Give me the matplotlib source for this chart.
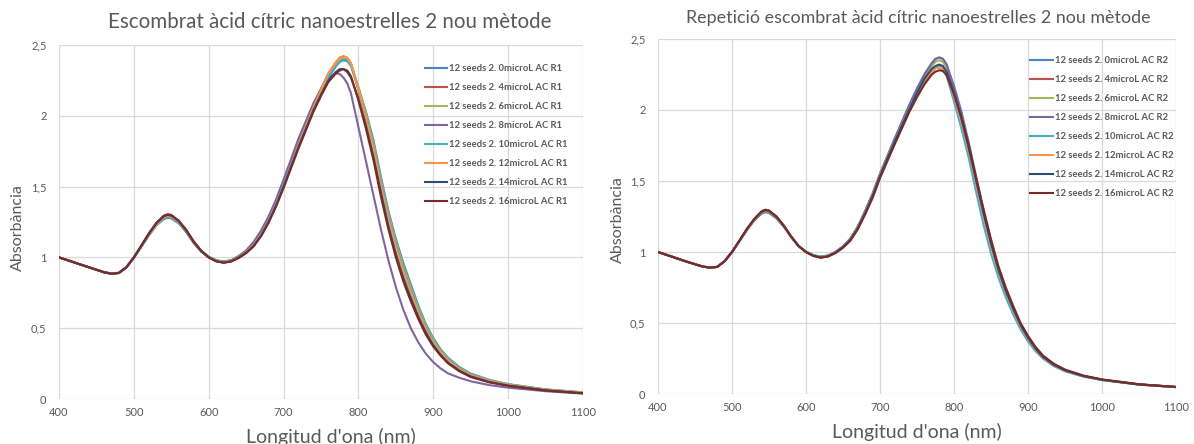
import matplotlib
matplotlib.use("Agg")
import matplotlib.pyplot as plt

plt.rcParams['font.family'] = ['Lato', 'DejaVu Sans']

# wavelength grid (nm)
wl = [400, 420, 440, 460, 470, 480, 490, 500, 510, 520, 530, 540, 545, 550, 560, 570, 580, 590,
      600, 610, 620, 630, 640, 650, 660, 670, 680, 690, 700, 720, 740, 750, 760, 770, 775, 780, 785, 790,
      800, 810, 820, 830, 840, 850, 860, 870, 880, 890, 900, 910, 920, 935, 950, 975, 1000, 1050, 1100]

# run 1 (R1)
r1_0 = [1.00, 0.965, 0.93, 0.897, 0.887, 0.892, 0.93, 0.995, 1.075, 1.155, 1.225, 1.27, 1.28, 1.275, 1.24, 1.18, 1.105, 1.045,
        1.005, 0.98, 0.972, 0.98, 1.005, 1.04, 1.09, 1.165, 1.26, 1.38, 1.51, 1.79, 2.05, 2.16, 2.27, 2.35, 2.385, 2.40, 2.395, 2.365,
        2.20, 2.03, 1.83, 1.57, 1.33, 1.13, 0.96, 0.81, 0.66, 0.53, 0.43, 0.35, 0.29, 0.225, 0.18, 0.135, 0.105, 0.068, 0.047]
r1_4 = [1.00, 0.965, 0.93, 0.895, 0.885, 0.89, 0.93, 1.00, 1.08, 1.16, 1.23, 1.285, 1.295, 1.29, 1.25, 1.19, 1.11, 1.045,
        1.0, 0.975, 0.965, 0.975, 1.0, 1.035, 1.085, 1.16, 1.26, 1.38, 1.51, 1.80, 2.07, 2.19, 2.30, 2.38, 2.41, 2.42, 2.41, 2.37,
        2.18, 1.98, 1.76, 1.50, 1.26, 1.05, 0.88, 0.73, 0.60, 0.48, 0.39, 0.32, 0.26, 0.205, 0.165, 0.125, 0.10, 0.064, 0.044]
r1_6 = [1.00, 0.965, 0.93, 0.896, 0.886, 0.891, 0.93, 0.998, 1.078, 1.158, 1.228, 1.278, 1.288, 1.283, 1.245, 1.185, 1.108, 1.045,
        1.003, 0.978, 0.969, 0.978, 1.003, 1.038, 1.088, 1.163, 1.26, 1.38, 1.51, 1.79, 2.06, 2.18, 2.29, 2.37, 2.40, 2.41, 2.405, 2.37,
        2.20, 2.02, 1.81, 1.55, 1.31, 1.11, 0.94, 0.79, 0.645, 0.52, 0.42, 0.345, 0.285, 0.22, 0.177, 0.132, 0.104, 0.067, 0.046]
r1_8 = [1.00, 0.965, 0.93, 0.895, 0.885, 0.89, 0.93, 1.00, 1.08, 1.16, 1.23, 1.28, 1.29, 1.285, 1.245, 1.18, 1.10, 1.04,
        1.0, 0.975, 0.968, 0.98, 1.01, 1.05, 1.11, 1.19, 1.29, 1.41, 1.55, 1.84, 2.09, 2.19, 2.27, 2.30, 2.295, 2.27, 2.23, 2.16,
        1.92, 1.68, 1.44, 1.20, 0.98, 0.79, 0.63, 0.50, 0.40, 0.32, 0.26, 0.215, 0.18, 0.15, 0.125, 0.098, 0.08, 0.055, 0.038]
r1_10 = [1.00, 0.965, 0.93, 0.896, 0.886, 0.891, 0.93, 0.998, 1.077, 1.157, 1.227, 1.277, 1.287, 1.282, 1.245, 1.185, 1.108, 1.045,
         1.003, 0.978, 0.969, 0.978, 1.003, 1.038, 1.088, 1.163, 1.26, 1.38, 1.51, 1.79, 2.06, 2.17, 2.28, 2.35, 2.38, 2.39, 2.385, 2.35,
         2.19, 2.00, 1.79, 1.53, 1.29, 1.09, 0.92, 0.77, 0.63, 0.51, 0.41, 0.34, 0.28, 0.217, 0.173, 0.13, 0.102, 0.066, 0.045]
r1_12 = [1.00, 0.965, 0.93, 0.895, 0.885, 0.89, 0.93, 1.00, 1.08, 1.16, 1.23, 1.283, 1.293, 1.288, 1.248, 1.188, 1.11, 1.045,
         1.0, 0.975, 0.966, 0.976, 1.0, 1.035, 1.085, 1.158, 1.255, 1.37, 1.50, 1.79, 2.06, 2.18, 2.30, 2.38, 2.41, 2.42, 2.41, 2.37,
         2.19, 1.99, 1.77, 1.51, 1.27, 1.07, 0.90, 0.75, 0.615, 0.495, 0.40, 0.33, 0.27, 0.21, 0.168, 0.127, 0.10, 0.065, 0.044]
r1_14 = [1.00, 0.965, 0.93, 0.895, 0.885, 0.89, 0.93, 1.00, 1.08, 1.165, 1.24, 1.29, 1.30, 1.295, 1.255, 1.19, 1.11, 1.045,
         1.0, 0.973, 0.963, 0.972, 0.998, 1.032, 1.08, 1.153, 1.25, 1.365, 1.50, 1.78, 2.04, 2.15, 2.25, 2.31, 2.33, 2.33, 2.31, 2.27,
         2.12, 1.93, 1.71, 1.46, 1.22, 1.02, 0.85, 0.71, 0.58, 0.47, 0.38, 0.31, 0.255, 0.20, 0.16, 0.12, 0.095, 0.061, 0.041]
r1_16 = [1.00, 0.965, 0.93, 0.895, 0.885, 0.89, 0.93, 1.00, 1.085, 1.17, 1.245, 1.295, 1.305, 1.30, 1.26, 1.195, 1.112, 1.046,
         1.0, 0.972, 0.962, 0.971, 0.996, 1.03, 1.078, 1.15, 1.245, 1.36, 1.49, 1.77, 2.03, 2.14, 2.24, 2.30, 2.32, 2.33, 2.32, 2.28,
         2.11, 1.91, 1.69, 1.43, 1.20, 1.00, 0.83, 0.69, 0.565, 0.455, 0.37, 0.305, 0.25, 0.195, 0.155, 0.117, 0.093, 0.06, 0.04]

# run 2 (R2)
r2_0 = [1.00, 0.965, 0.93, 0.898, 0.89, 0.895, 0.935, 1.0, 1.075, 1.153, 1.222, 1.27, 1.28, 1.275, 1.237, 1.178, 1.105, 1.042,
        1.003, 0.978, 0.967, 0.976, 1.002, 1.04, 1.095, 1.18, 1.29, 1.41, 1.55, 1.80, 2.04, 2.15, 2.25, 2.33, 2.36, 2.37, 2.36, 2.32,
        2.17, 1.99, 1.77, 1.53, 1.29, 1.08, 0.89, 0.74, 0.61, 0.49, 0.40, 0.325, 0.265, 0.207, 0.168, 0.127, 0.10, 0.068, 0.05]
r2_4 = [1.00, 0.965, 0.93, 0.898, 0.89, 0.895, 0.935, 1.0, 1.078, 1.158, 1.228, 1.28, 1.29, 1.285, 1.245, 1.183, 1.107, 1.042,
        1.0, 0.974, 0.962, 0.971, 0.997, 1.035, 1.088, 1.17, 1.28, 1.40, 1.54, 1.78, 2.01, 2.11, 2.20, 2.27, 2.295, 2.30, 2.29, 2.25,
        2.11, 1.93, 1.72, 1.49, 1.26, 1.05, 0.87, 0.72, 0.595, 0.48, 0.39, 0.318, 0.26, 0.204, 0.165, 0.125, 0.10, 0.067, 0.049]
r2_6 = [1.00, 0.965, 0.93, 0.898, 0.89, 0.895, 0.935, 1.0, 1.077, 1.156, 1.225, 1.276, 1.286, 1.281, 1.242, 1.181, 1.106, 1.042,
        1.001, 0.976, 0.965, 0.974, 1.0, 1.038, 1.092, 1.175, 1.285, 1.405, 1.55, 1.79, 2.03, 2.14, 2.24, 2.31, 2.34, 2.35, 2.34, 2.30,
        2.14, 1.96, 1.75, 1.51, 1.27, 1.06, 0.88, 0.73, 0.60, 0.485, 0.395, 0.32, 0.262, 0.205, 0.166, 0.126, 0.10, 0.067, 0.049]
r2_8 = [1.00, 0.965, 0.93, 0.898, 0.89, 0.895, 0.935, 1.0, 1.076, 1.155, 1.224, 1.274, 1.284, 1.279, 1.24, 1.18, 1.105, 1.042,
        1.002, 0.977, 0.966, 0.975, 1.001, 1.039, 1.094, 1.178, 1.29, 1.41, 1.55, 1.80, 2.04, 2.15, 2.25, 2.33, 2.36, 2.37, 2.36, 2.32,
        2.15, 1.97, 1.75, 1.51, 1.27, 1.06, 0.88, 0.73, 0.60, 0.485, 0.395, 0.32, 0.262, 0.205, 0.166, 0.126, 0.10, 0.067, 0.049]
r2_10 = [1.00, 0.965, 0.93, 0.898, 0.89, 0.895, 0.935, 1.0, 1.077, 1.157, 1.226, 1.277, 1.287, 1.282, 1.243, 1.182, 1.106, 1.042,
         1.001, 0.976, 0.965, 0.974, 1.0, 1.038, 1.092, 1.175, 1.285, 1.405, 1.55, 1.79, 2.02, 2.12, 2.22, 2.28, 2.30, 2.31, 2.29, 2.24,
         2.06, 1.87, 1.66, 1.42, 1.19, 0.99, 0.82, 0.68, 0.56, 0.455, 0.37, 0.303, 0.25, 0.196, 0.16, 0.122, 0.098, 0.066, 0.048]
r2_12 = [1.00, 0.965, 0.93, 0.898, 0.89, 0.895, 0.935, 1.0, 1.078, 1.158, 1.228, 1.28, 1.29, 1.285, 1.245, 1.183, 1.107, 1.042,
         1.0, 0.974, 0.962, 0.971, 0.997, 1.035, 1.088, 1.17, 1.28, 1.40, 1.54, 1.78, 2.01, 2.11, 2.21, 2.27, 2.295, 2.30, 2.29, 2.25,
         2.10, 1.92, 1.71, 1.48, 1.25, 1.04, 0.86, 0.715, 0.59, 0.475, 0.385, 0.315, 0.258, 0.202, 0.164, 0.125, 0.10, 0.067, 0.049]
r2_14 = [1.00, 0.965, 0.93, 0.898, 0.89, 0.895, 0.935, 1.0, 1.079, 1.16, 1.23, 1.283, 1.294, 1.289, 1.248, 1.185, 1.108, 1.042,
         1.0, 0.973, 0.961, 0.97, 0.996, 1.034, 1.086, 1.167, 1.275, 1.395, 1.535, 1.78, 2.01, 2.12, 2.22, 2.29, 2.31, 2.32, 2.31, 2.27,
         2.12, 1.94, 1.73, 1.50, 1.27, 1.06, 0.875, 0.725, 0.60, 0.485, 0.395, 0.32, 0.262, 0.205, 0.166, 0.126, 0.10, 0.067, 0.049]
r2_16 = [1.00, 0.965, 0.93, 0.898, 0.89, 0.895, 0.935, 1.0, 1.08, 1.162, 1.233, 1.287, 1.298, 1.293, 1.251, 1.187, 1.109, 1.042,
         0.999, 0.972, 0.96, 0.968, 0.993, 1.03, 1.08, 1.16, 1.265, 1.38, 1.52, 1.76, 1.99, 2.09, 2.18, 2.25, 2.27, 2.28, 2.275, 2.245,
         2.11, 1.95, 1.75, 1.52, 1.30, 1.09, 0.90, 0.75, 0.62, 0.50, 0.41, 0.333, 0.272, 0.213, 0.172, 0.13, 0.103, 0.069, 0.05]

volumes = [0, 4, 6, 8, 10, 12, 14, 16]
colors = ['#4F81BD', '#C0504D', '#9BBB59', '#8064A2', '#4BACC6', '#F79646', '#2C4D75', '#772C2A']
run1 = [r1_0, r1_4, r1_6, r1_8, r1_10, r1_12, r1_14, r1_16]
run2 = [r2_0, r2_4, r2_6, r2_8, r2_10, r2_12, r2_14, r2_16]

xticks = [400, 500, 600, 700, 800, 900, 1000, 1100]
yticks = [0, 0.5, 1, 1.5, 2, 2.5]
ytick_labels = ['0', '0,5', '1', '1,5', '2', '2,5']

txt = '#595959'
grid = '#d9d9d9'

fig = plt.figure(figsize=(11.94, 4.44), dpi=100)
W, H = 1194, 444


def make_ax(x0, x1, y_top, y_bot):
    return fig.add_axes([x0 / W, 1 - y_bot / H, (x1 - x0) / W, (y_bot - y_top) / H])


ax1 = make_ax(59, 583, 45, 399)
ax2 = make_ax(658, 1176, 39, 394)

for ax, runs, tag, leg_xy in [(ax1, run1, 'R1', (0.698, 0.945)), (ax2, run2, 'R2', (0.719, 0.951))]:
    for vol, col, ys in zip(volumes, colors, runs):
        ax.plot(wl, ys, color=col, lw=1.5, label='12 seeds 2. %dmicroL AC %s' % (vol, tag))
    ax.set_xlim(400, 1100)
    ax.set_ylim(0, 2.5)
    ax.set_xticks(xticks)
    ax.set_yticks(yticks)
    ax.set_yticklabels(ytick_labels)
    ax.grid(True, color=grid, lw=0.9)
    ax.set_axisbelow(True)
    for s in ax.spines.values():
        s.set_visible(False)
    ax.tick_params(length=0, labelsize=8, labelcolor=txt)
    ax.tick_params(axis='y', pad=9)
    ax.tick_params(axis='x', pad=6)
    leg = ax.legend(loc='upper left', bbox_to_anchor=leg_xy, frameon=False, borderpad=0,
                    borderaxespad=0, handlelength=2.35, handletextpad=0.2, labelspacing=1.05,
                    prop={'size': 6.8, 'weight': 'bold'})
    for t in leg.get_texts():
        t.set_color(txt)

fig.text(330 / W, 1 - 22 / H, 'Escombrat àcid cítric nanoestrelles 2 nou mètode',
         ha='center', va='center', fontsize=14.8, color=txt)
fig.text(918 / W, 1 - 18 / H, 'Repetició escombrat àcid cítric nanoestrelles 2 nou mètode',
         ha='center', va='center', fontsize=12.9, color=txt)
fig.text(18 / W, 1 - 228 / H, 'Absorbància', rotation=90, ha='center', va='center', fontsize=11.5, color=txt)
fig.text(618 / W, 1 - 220 / H, 'Absorbància', rotation=90, ha='center', va='center', fontsize=11.5, color=txt)
fig.text(331 / W, 1 - 437 / H, "Longitud d'ona (nm)", ha='center', va='center', fontsize=14, color=txt)
fig.text(917 / W, 1 - 432 / H, "Longitud d'ona (nm)", ha='center', va='center', fontsize=14, color=txt)

fig.savefig('out.png', dpi=100)
